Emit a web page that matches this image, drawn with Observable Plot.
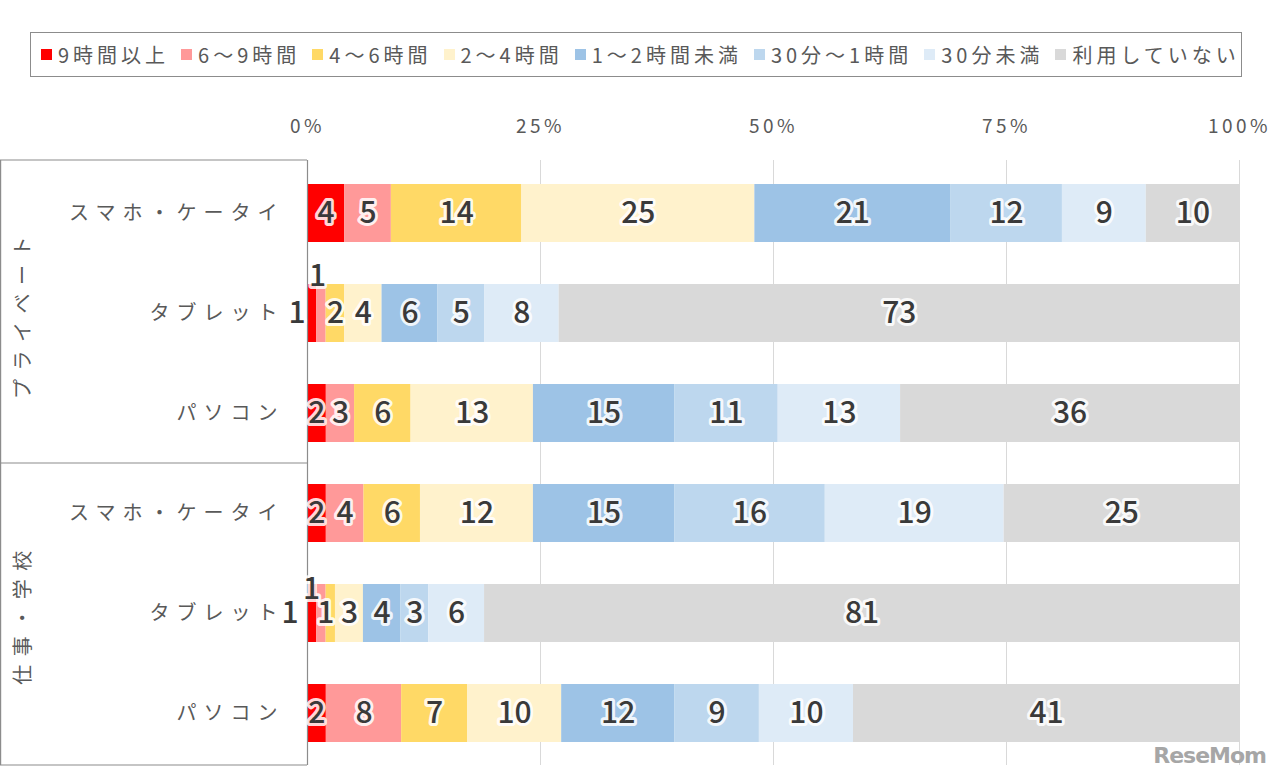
<!DOCTYPE html>
<html><head><meta charset="utf-8">
<script src="https://cdn.jsdelivr.net/npm/d3@7"></script>
<script src="https://cdn.jsdelivr.net/npm/@observablehq/plot@0.6"></script>
<style>
body{margin:0;background:#fff;font-family:"Noto Sans CJK JP","Noto Sans",sans-serif;}
#wrap{position:relative;width:1280px;height:776px;overflow:hidden;}
#legend{position:absolute;left:30px;top:32px;width:1212px;height:45px;border:1px solid #8c8c8c;display:flex;align-items:center;padding-left:10px;box-sizing:border-box;gap:12px;}
.item{display:flex;align-items:center;font-size:20px;color:#595959;letter-spacing:4px;white-space:nowrap;}
.sw{width:11px;height:11px;margin-right:6px;flex:none;}
#chart{position:absolute;left:0;top:90px;}
#logo{position:absolute;right:14px;bottom:8px;font:bold 22px "DejaVu Sans",sans-serif;color:#a6a6a6;letter-spacing:-1px;}
</style>
</head><body>
<div id="wrap"><div id="legend"></div><div id="chart"></div><div id="logo">ReseMom</div></div>
<script>
const groups = ["プライベート", "仕事・学校"];
const devices = ["スマホ・ケータイ", "タブレット", "パソコン"];
const categories = ["9時間以上","6～9時間","4～6時間","2～4時間","1～2時間未満","30分～1時間","30分未満","利用していない"];
const colors = ["#FF0000","#FF9999","#FFD966","#FFF2CC","#9DC3E6","#BDD7EE","#DEEBF7","#D9D9D9"];
const privateSmartphone = [4,5,14,25,21,12,9,10];
const privateTablet     = [1,1,2,4,6,5,8,73];
const privatePC         = [2,3,6,13,15,11,13,36];
const workSmartphone    = [2,4,6,12,15,16,19,25];
const workTablet        = [1,1,1,3,4,3,6,81];
const workPC            = [2,8,7,10,12,9,10,41];
const xTicks = [0,0.25,0.5,0.75,1];

const rowsSpec = [
  [groups[0], devices[0], privateSmartphone],
  [groups[0], devices[1], privateTablet],
  [groups[0], devices[2], privatePC],
  [groups[1], devices[0], workSmartphone],
  [groups[1], devices[1], workTablet],
  [groups[1], devices[2], workPC]
];
const rowKeys = rowsSpec.map(r => r[0] + "|" + r[1]);
const data = rowsSpec.flatMap(([g, d, vals]) => vals.map((v, i) => ({row: g + "|" + d, cat: categories[i], ci: i, value: v})));

// legend
const lg = document.getElementById("legend");
categories.forEach((c, i) => {
  const it = document.createElement("div"); it.className = "item";
  it.innerHTML = `<span class="sw" style="background:${colors[i]}"></span><span>${c}</span>`;
  lg.appendChild(it);
});

// label nudges for tiny segments (code-side styling)
const nudges = [
  {row: rowKeys[1], ci: 0, dx: -15, dy: 0},
  {row: rowKeys[1], ci: 1, dx: -4, dy: -37},
  {row: rowKeys[4], ci: 0, dx: -22, dy: 0},
  {row: rowKeys[4], ci: 1, dx: -10, dy: -24},
  {row: rowKeys[4], ci: 2, dx: -5, dy: 0}
];
const isNudged = d => nudges.some(n => n.row === d.row && n.ci === d.ci);

const stackOpts = (extra) => Plot.stackX({x: "value", y: "row", z: "cat", order: categories, offset: "normalize", ...extra});
const labelStyle = {fontSize: 30, fontWeight: 500, fill: "#3a3a3a", stroke: "white", strokeWidth: 6, strokeOpacity: 0.85, strokeLinejoin: "round", paintOrder: "stroke"};

const marks = [
  Plot.gridX(xTicks.slice(1), {stroke: "#d9d9d9", strokeOpacity: 1}),
  Plot.barX(data, stackOpts({fill: d => colors[d.ci]})),
  Plot.ruleX([0], {stroke: "#8c8c8c", strokeWidth: 1.2}),
  Plot.text(data, stackOpts({text: d => isNudged(d) ? "" : String(d.value), ...labelStyle})),
  ...nudges.map(n => Plot.text(data, stackOpts({text: d => (d.row === n.row && d.ci === n.ci) ? String(d.value) : "", dx: n.dx, dy: n.dy, ...labelStyle}))),
  Plot.text(xTicks, {x: d => d, text: d => Math.round(d * 100) + "%", frameAnchor: "top", dy: -41, fontSize: 19, fill: "#595959"}),
  Plot.text(rowKeys, {y: d => d, text: d => d.split("|")[1], frameAnchor: "left", dx: -23, textAnchor: "end", fontSize: 20, fill: "#595959"}),
  Plot.text(groups, {y: (g, i) => rowKeys[i * 3 + 1], text: d => d, frameAnchor: "left", dx: -284, rotate: -90, textAnchor: "middle", fontSize: 20, fill: "#595959"})
];

const plot = Plot.plot({
  width: 1280, height: 686,
  marginTop: 70, marginBottom: 11, marginLeft: 307, marginRight: 41,
  style: {fontFamily: '"Noto Sans CJK JP", sans-serif', background: "white"},
  x: {domain: [0, 1], axis: null},
  y: {domain: rowKeys, axis: null, paddingInner: 0.42, paddingOuter: 0.21},
  marks
});
document.getElementById("chart").appendChild(plot);

// letter spacing for category / group / tick labels
d3.select(plot).selectAll("text").each(function () {
  const t = this.textContent;
  if (devices.includes(t)) this.setAttribute("letter-spacing", "7px");
  else if (groups.includes(t)) this.setAttribute("letter-spacing", "8.5px");
  else if (t.endsWith("%")) this.setAttribute("letter-spacing", "3.5px");
});

// left category box lines
const ysc = plot.scale("y");
const bw = ysc.bandwidth;
const yTop = 70, yBottom = 686 - 11;
const yMid = (ysc.apply(rowKeys[2]) + bw / 2 + ysc.apply(rowKeys[3]) + bw / 2) / 2;
const boxG = d3.select(plot).append("g").attr("stroke", "#8c8c8c").attr("stroke-width", 1.2);
[yTop, yMid, yBottom].forEach(y => boxG.append("line").attr("x1", 0).attr("x2", 307).attr("y1", y).attr("y2", y));
boxG.append("line").attr("x1", 0.6).attr("x2", 0.6).attr("y1", yTop).attr("y2", yBottom);
</script>
</body></html>
